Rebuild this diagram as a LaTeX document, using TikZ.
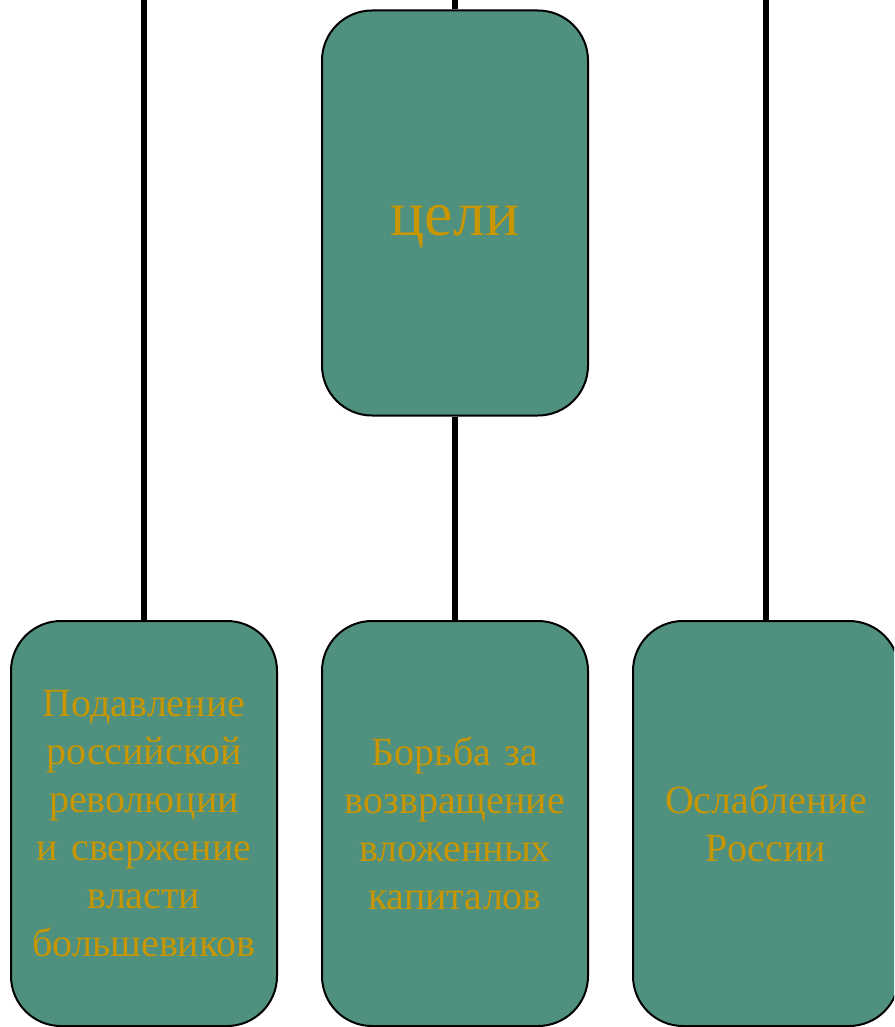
\documentclass[tikz,border=0pt]{standalone}
\usepackage{fontspec}
\setmainfont{Liberation Serif}
\definecolor{boxgreen}{RGB}{80,144,127}
\definecolor{textgold}{RGB}{200,150,0}
\tikzset{
  goalbox/.style={draw=black, line width=2pt, fill=boxgreen, rounded corners=50pt,
    minimum width=266pt, minimum height=405pt, text width=250pt, align=center,
    text=textgold, font=\fontsize{40}{48}\selectfont},
  link/.style={line width=5.5pt, black}
}
\begin{document}
\begin{tikzpicture}[x=1pt, y=-1pt]
			%%%%% START %%%%%
			\clip (0, 0) rectangle (894, 1027);
			\fill[white] (0, 0) rectangle (894, 1027);
			
			\coordinate (topL) at (144, 0);
			\coordinate (topM) at (455, 0);
			\coordinate (topR) at (766, 0);
			
			\node[goalbox, font=\fontsize{64}{77}\selectfont] (celi) at (455, 213) {\raisebox{-22pt}[0pt][0pt]{цели}};
			
			\node[goalbox] (podavl) at (144, 823.5) {Подавление\\российской\\революции\\и свержение\\власти\\большевиков};
			\node[goalbox] (borba) at (455, 823.5) {Борьба за\\возвращение\\вложенных\\капиталов};
			\node[goalbox] (oslab) at (766, 823.5) {Ослабление\\России};
			
			\draw[link] (topL) -- (podavl.north);
			\draw[link] (topM) -- (celi.north);
			\draw[link] (celi.south) -- (borba.north);
			\draw[link] (topR) -- (oslab.north);
			
			%%%%% END %%%%%
\end{tikzpicture}
\end{document}
